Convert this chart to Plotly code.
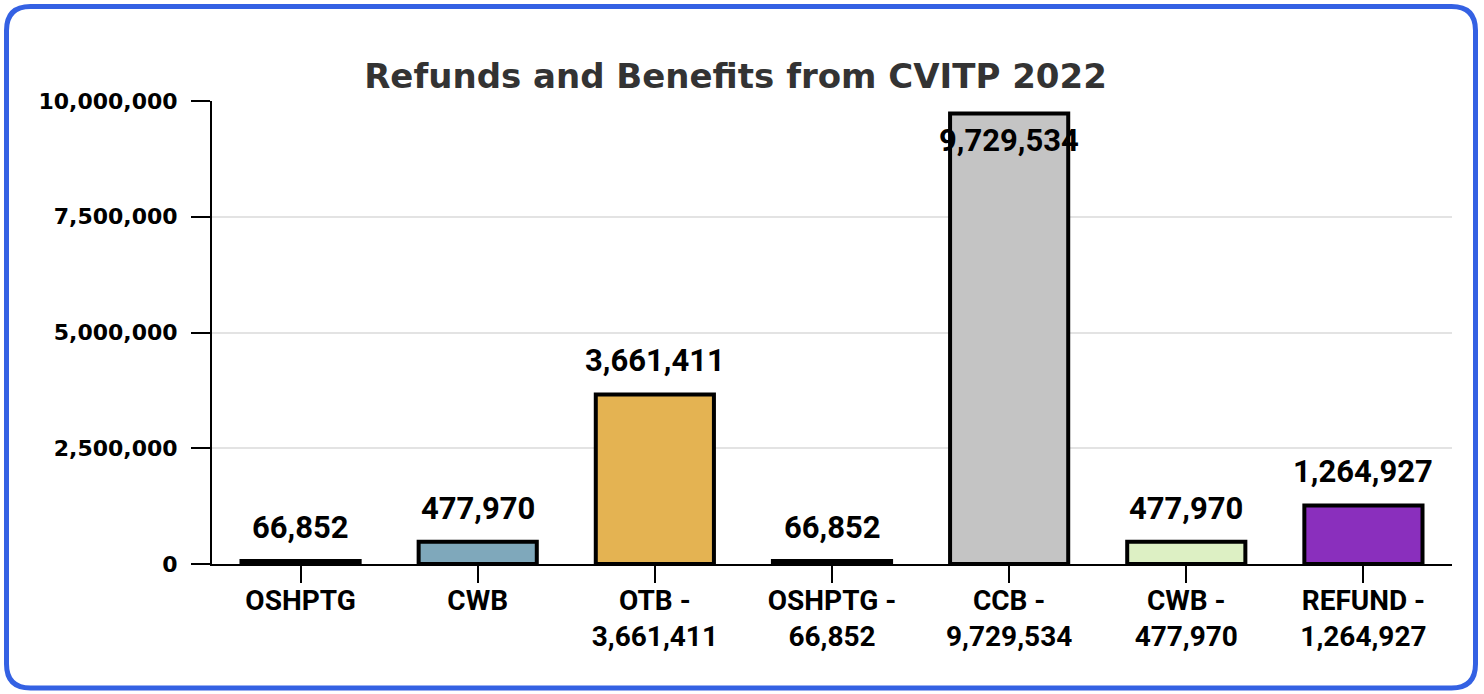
import plotly.graph_objects as go

categories = ["OSHPTG", "CWB", "OTB -<br>3,661,411", "OSHPTG -<br>66,852",
              "CCB -<br>9,729,534", "CWB -<br>477,970", "REFUND -<br>1,264,927"]
values = [66852, 477970, 3661411, 66852, 9729534, 477970, 1264927]
bar_colors = ["#1a1a1a", "#7fa8bb", "#e4b352", "#1a1a1a", "#c4c4c4", "#ddf0c4", "#8a2fbd"]
label_inside = [False, False, False, False, True, False, False]
y_ticks = [0, 2500000, 5000000, 7500000, 10000000]

W, H = 1484, 694
L, R, T, B = 212, 32, 101, 130
pw, ph = W - L - R, H - T - B

LABEL_FONT = "Roboto"
AXIS_FONT = "DejaVu Sans"

fig = go.Figure(go.Bar(
    x=categories, y=values,
    marker=dict(color=bar_colors, line=dict(color="black", width=4)),
    cliponaxis=False,
    hoverinfo="x+y",
))

annotations = []
for cat, val, inside in zip(categories, values, label_inside):
    annotations.append(dict(
        x=cat, y=val, xref="x", yref="y",
        text=f"{val:,}", showarrow=False,
        xanchor="center",
        yanchor="top" if inside else "bottom",
        yshift=-6 if inside else 13,
        font=dict(family=LABEL_FONT, size=31, color="black", weight="bold"),
    ))

# rounded border around the whole card
def px_x(p):
    return (p - L) / pw

def px_y(p):
    return (H - B - p) / ph

x0, x1, y0, y1, r = 6.5, 1475.5, 6.5, 688, 24
path = (
    f"M {px_x(x0 + r)},{px_y(y0)} L {px_x(x1 - r)},{px_y(y0)} "
    f"Q {px_x(x1)},{px_y(y0)} {px_x(x1)},{px_y(y0 + r)} "
    f"L {px_x(x1)},{px_y(y1 - r)} Q {px_x(x1)},{px_y(y1)} {px_x(x1 - r)},{px_y(y1)} "
    f"L {px_x(x0 + r)},{px_y(y1)} Q {px_x(x0)},{px_y(y1)} {px_x(x0)},{px_y(y1 - r)} "
    f"L {px_x(x0)},{px_y(y0 + r)} Q {px_x(x0)},{px_y(y0)} {px_x(x0 + r)},{px_y(y0)} Z"
)

fig.update_layout(
    width=W, height=H, autosize=False,
    margin=dict(l=L, r=R, t=T, b=B, pad=0),
    paper_bgcolor="white", plot_bgcolor="white",
    bargap=0.333,
    showlegend=False,
    title=dict(
        text="Refunds and Benefits from CVITP 2022",
        font=dict(family=AXIS_FONT, size=34, color="#333333", weight="bold"),
        x=735.5 / W, xref="container", xanchor="center",
        y=1 - 76 / H, yref="container", yanchor="middle",
    ),
    xaxis=dict(
        type="category",
        showline=True, linecolor="black", linewidth=2,
        ticks="outside", ticklen=17, tickwidth=2, tickcolor="black",
        tickfont=dict(family=LABEL_FONT, size=28, color="black", weight="bold"),
        ticklabelstandoff=-7,
        showgrid=False, zeroline=False,
    ),
    yaxis=dict(
        range=[0, 10000000],
        tickvals=y_ticks, tickformat=",",
        showline=True, linecolor="black", linewidth=2,
        ticks="outside", ticklen=19, tickwidth=2, tickcolor="black",
        tickfont=dict(family=AXIS_FONT, size=22, color="black", weight="bold"),
        ticklabelstandoff=9,
        showgrid=True, gridcolor="#e3e3e3", gridwidth=2,
        zeroline=False,
    ),
    annotations=annotations,
    shapes=[dict(type="path", xref="paper", yref="paper", path=path,
                 line=dict(color="#3461e3", width=5), fillcolor="rgba(0,0,0,0)",
                 layer="above")],
)

fig.write_html("out.html", config={"displayModeBar": False},
               post_script="document.body.style.margin='0';")
